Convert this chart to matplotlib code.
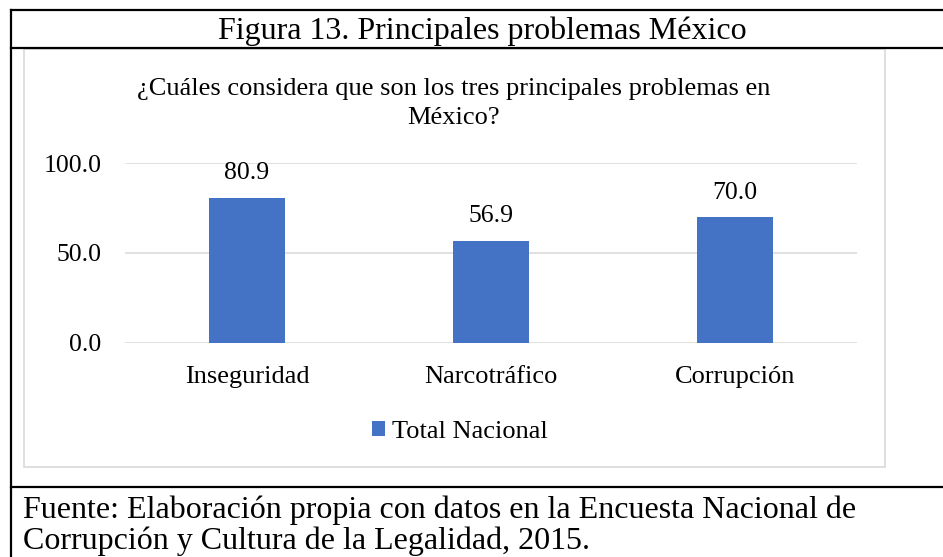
import matplotlib
matplotlib.use("Agg")
import matplotlib.pyplot as plt
from matplotlib.lines import Line2D
from matplotlib.patches import Rectangle

plt.rcParams['font.family'] = ['Liberation Serif', 'DejaVu Serif']

# datos (ENCCL 2015)
categorias = ['Inseguridad', 'Narcotráfico', 'Corrupción']
total_nacional = [80.9, 56.9, 70.0]
yticks = [0.0, 50.0, 100.0]

W, H = 943, 557
BLUE = '#4472C4'
GRID = '#d9d9d9'


def fx(px):
    return px / W


def fy(py):
    return 1 - py / H


fig = plt.figure(figsize=(W / 100, H / 100), dpi=100)

# marco de la tabla
for x0, y0, x1, y1 in [(11, 10, W, 10), (11, 10, 11, H), (11, 48, W, 48), (11, 486.5, W, 486.5)]:
    fig.add_artist(Line2D([fx(x0), fx(x1)], [fy(y0), fy(y1)], color='black', lw=1.6,
                          transform=fig.transFigure))

fig.text(fx(482.5), fy(39), 'Figura 13. Principales problemas México', ha='center',
         va='baseline', fontsize=23)

# area del grafico
fig.add_artist(Rectangle((fx(24), fy(467)), fx(885 - 24), (467 - 49) / H, transform=fig.transFigure,
                         fill=False, edgecolor=GRID, lw=1.2))

fig.text(fx(454), fy(94.5), '¿Cuáles considera que son los tres principales problemas en',
         ha='center', va='baseline', fontsize=19)
fig.text(fx(454), fy(124), 'México?', ha='center', va='baseline', fontsize=19)

ax = fig.add_axes([fx(125), fy(342.5), fx(857 - 125), (342.5 - 163.3) / H])
x = range(len(categorias))
bars = ax.bar(x, total_nacional, width=0.31, color=BLUE, zorder=3, label='Total Nacional')
ax.set_xlim(-0.5, len(categorias) - 0.5)
ax.set_ylim(0, 100)
ax.set_yticks(yticks)
ax.set_yticklabels([f'{v:.1f}' for v in yticks], fontsize=18.5)
ax.set_xticks(list(x))
ax.set_xticklabels(categorias, fontsize=19)
ax.tick_params(axis='y', length=0, pad=17)
ax.tick_params(axis='x', length=0, pad=17)
ax.grid(axis='y', color=GRID, lw=1.1, zorder=0)
for s in ax.spines.values():
    s.set_visible(False)
ax.set_facecolor('none')

for b, v in zip(bars, total_nacional):
    ax.annotate(f'{v:.1f}', (b.get_x() + b.get_width() / 2, v), xytext=(0, 13),
                textcoords='offset points', ha='center', va='baseline', fontsize=18.5)

ax.legend(loc='center', bbox_to_anchor=(fx(460), fy(432)), bbox_transform=fig.transFigure,
          frameon=False, fontsize=19, handlelength=0.5, handleheight=0.5, handletextpad=0.25)

fig.text(fx(23), fy(518), 'Fuente: Elaboración propia con datos en la Encuesta Nacional de',
         ha='left', va='baseline', fontsize=23)
fig.text(fx(23), fy(548.5), 'Corrupción y Cultura de la Legalidad, 2015.',
         ha='left', va='baseline', fontsize=23)

fig.savefig('out.png', dpi=100)
